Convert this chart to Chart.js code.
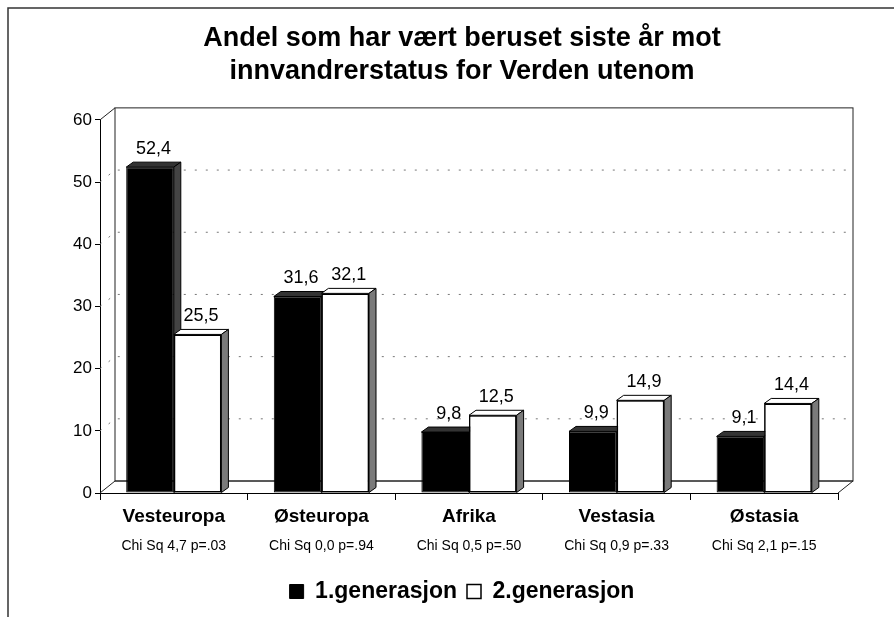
<!DOCTYPE html>
<html>
<head>
<meta charset="utf-8">
<script src="https://cdn.jsdelivr.net/npm/chart.js@4"></script>
<style>
  html, body { margin: 0; padding: 0; background: #fff; }
  #wrap { width: 894px; height: 617px; }
</style>
</head>
<body>
<div id="wrap"><canvas id="chartBeruset"></canvas></div>
<script>
const regioner = ["Vesteuropa", "Østeuropa", "Afrika", "Vestasia", "Østasia"];
const chiSq = ["Chi Sq 4,7 p=.03", "Chi Sq 0,0 p=.94", "Chi Sq 0,5 p=.50", "Chi Sq 0,9 p=.33", "Chi Sq 2,1 p=.15"];
const gen1 = [52.4, 31.6, 9.8, 9.9, 9.1];
const gen2 = [25.5, 32.1, 12.5, 14.9, 14.4];
const yTicks = [0, 10, 20, 30, 40, 50, 60];

Chart.defaults.font.family = 'Arial, "Liberation Sans", sans-serif';
Chart.defaults.color = "#000";

// depth of the 3d look
const DX = 7, DY = 5;      // bars
const WX = 15, WY = 12;    // back wall

const fmt = (v) => v.toFixed(1).replace(".", ",");

const ramme = {
  id: "ramme",
  beforeDraw(chart) {
    const ctx = chart.ctx;
    ctx.save();
    ctx.strokeStyle = "#333";
    ctx.lineWidth = 1.5;
    ctx.beginPath();
    ctx.moveTo(8, chart.height);
    ctx.lineTo(8, 8);
    ctx.lineTo(chart.width, 8);
    ctx.stroke();
    ctx.restore();
  },
};

const vegg = {
  id: "vegg",
  beforeDatasetsDraw(chart) {
    const ctx = chart.ctx;
    const a = chart.chartArea;
    const y = chart.scales.y;
    ctx.save();
    ctx.strokeStyle = "#222";
    ctx.lineWidth = 1;
    // floor
    ctx.beginPath();
    ctx.moveTo(a.left, a.bottom);
    ctx.lineTo(a.left + WX, a.bottom - WY);
    ctx.lineTo(a.right + WX, a.bottom - WY);
    ctx.lineTo(a.right, a.bottom);
    ctx.stroke();
    // back wall
    ctx.strokeRect(a.left + WX, a.top - WY, a.right - a.left, a.bottom - a.top);
    // side wall top edge
    ctx.beginPath();
    ctx.moveTo(a.left, a.top);
    ctx.lineTo(a.left + WX, a.top - WY);
    ctx.stroke();
    // dotted gridlines on the wall
    ctx.strokeStyle = "#777";
    ctx.setLineDash([2, 9]);
    yTicks.slice(1, -1).forEach((v) => {
      const p = y.getPixelForValue(v);
      ctx.beginPath();
      ctx.moveTo(a.left, p);
      ctx.lineTo(a.left + WX, p - WY);
      ctx.lineTo(a.right + WX, p - WY);
      ctx.stroke();
    });
    ctx.restore();
  },
  afterDatasetsDraw(chart) {
    const ctx = chart.ctx;
    const m0 = chart.getDatasetMeta(0);
    const m1 = chart.getDatasetMeta(1);
    const face = (bar, top, side) => {
      const { x, y, base, width } = bar.getProps(["x", "y", "base", "width"], true);
      const l = x - width / 2, r = x + width / 2;
      ctx.lineWidth = 1;
      ctx.strokeStyle = "#000";
      ctx.fillStyle = top;
      ctx.beginPath();
      ctx.moveTo(l, y);
      ctx.lineTo(l + DX, y - DY);
      ctx.lineTo(r + DX, y - DY);
      ctx.lineTo(r, y);
      ctx.closePath();
      ctx.fill();
      ctx.stroke();
      ctx.fillStyle = side;
      ctx.beginPath();
      ctx.moveTo(r, y);
      ctx.lineTo(r + DX, y - DY);
      ctx.lineTo(r + DX, base - DY);
      ctx.lineTo(r, base);
      ctx.closePath();
      ctx.fill();
      ctx.stroke();
    };
    const label = (bar, v) => {
      const { x, y } = bar.getProps(["x", "y"], true);
      ctx.fillStyle = "#000";
      ctx.font = '18px Arial, "Liberation Sans", sans-serif';
      ctx.textAlign = "center";
      ctx.textBaseline = "bottom";
      ctx.fillText(fmt(v), x + DX / 2, y - DY - 4);
    };
    ctx.save();
    m0.data.forEach((b0, i) => {
      const b1 = m1.data[i];
      face(b0, "#333", "#444");
      b1.draw(ctx);
      face(b1, "#fff", "#7a7a7a");
      label(b0, gen1[i]);
      label(b1, gen2[i]);
    });
    ctx.restore();
  },
  afterDraw(chart) {
    const ctx = chart.ctx;
    const x = chart.scales.x;
    ctx.save();
    ctx.fillStyle = "#000";
    ctx.font = '14px Arial, "Liberation Sans", sans-serif';
    ctx.textAlign = "center";
    ctx.textBaseline = "middle";
    chiSq.forEach((t, i) => ctx.fillText(t, x.getPixelForValue(i), 546));
    ctx.restore();
  },
};

document.addEventListener("DOMContentLoaded", () => {
  new Chart(document.querySelector("#chartBeruset"), {
    type: "bar",
    data: {
      labels: regioner,
      datasets: [
        {
          label: "1.generasjon",
          data: gen1,
          backgroundColor: "#000",
          borderColor: "#000",
          borderWidth: 1,
          borderSkipped: false,
        },
        {
          label: "2.generasjon",
          data: gen2,
          backgroundColor: "#fff",
          borderColor: "#000",
          borderWidth: 1.5,
          borderSkipped: false,
        },
      ],
    },
    options: {
      responsive: true,
      maintainAspectRatio: false,
      animation: false,
      layout: {
        padding: { left: 30, right: 0, top: 0, bottom: 4 },
      },
      datasets: {
        bar: { categoryPercentage: 0.645, barPercentage: 1 },
      },
      scales: {
        x: {
          grid: { offset: true, drawOnChartArea: false, drawTicks: true, tickLength: 7, color: "#000" },
          border: { display: true, color: "#000", width: 1 },
          ticks: { font: { size: 19, weight: "bold" }, padding: 5 },
          afterFit: (s) => { s.height = 77; },
        },
        y: {
          min: 0,
          max: 60,
          afterBuildTicks: (s) => { s.ticks = yTicks.map((v) => ({ value: v })); },
          grid: { drawOnChartArea: false, drawTicks: true, tickLength: 5, color: "#000" },
          border: { display: true, color: "#000", width: 1 },
          ticks: { font: { size: 17 }, padding: 3 },
          afterFit: (s) => { s.width = 70; },
        },
        // empty space right of the plot (room for the 3d wall)
        hoyre: {
          type: "linear",
          position: "right",
          display: true,
          grid: { display: false },
          border: { display: false },
          ticks: { display: false },
          afterFit: (s) => { s.width = 56; },
        },
      },
      plugins: {
        title: {
          display: true,
          text: ["Andel som har vært beruset siste år mot", "innvandrerstatus for Verden utenom"],
          font: { size: 27, weight: "bold", lineHeight: 1.22 },
          padding: { top: 22, bottom: 32 },
        },
        legend: {
          position: "bottom",
          labels: {
            boxWidth: 14,
            boxHeight: 14,
            padding: 10,
            font: { size: 23, weight: "bold" },
          },
        },
        tooltip: { enabled: false },
      },
    },
    plugins: [ramme, vegg],
  });
});
</script>
</body>
</html>
